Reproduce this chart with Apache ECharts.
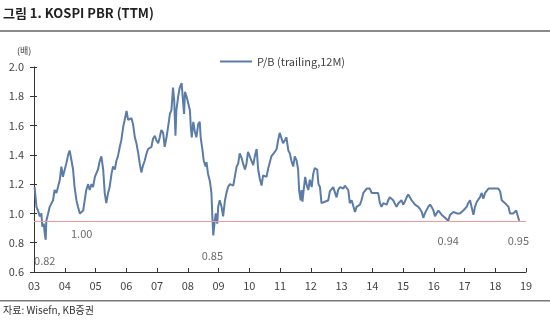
<!DOCTYPE html>
<html>
<head>
<meta charset="utf-8">
<script src="https://cdn.jsdelivr.net/npm/echarts@6/dist/echarts.min.js"></script>
<style>
html,body{margin:0;padding:0;background:#fff;}
#chart{width:550px;height:323px;}
</style>
</head>
<body>
<div id="chart"></div>
<script>
// ---- data (decimal year, P/B) ----
const dates = [
  2003.02,2003.08,2003.13,2003.19,2003.24,2003.27,2003.32,2003.35,2003.38,2003.40,2003.46,2003.51,2003.62,2003.67,2003.73,2003.78,2003.84,2003.89,2003.94,
  2004.00,2004.05,2004.11,2004.16,2004.22,2004.27,2004.32,2004.38,2004.43,2004.49,2004.54,2004.60,2004.65,2004.70,2004.76,2004.81,2004.87,2004.92,2004.98,
  2005.03,2005.08,2005.14,2005.19,2005.25,2005.30,2005.35,2005.41,2005.46,2005.52,2005.57,2005.63,2005.68,2005.73,2005.79,2005.84,2005.90,2005.95,
  2006.01,2006.06,2006.11,2006.17,2006.22,2006.28,2006.33,2006.39,2006.44,2006.49,2006.55,2006.60,2006.66,2006.71,2006.76,2006.82,2006.87,2006.93,2006.98,
  2007.04,2007.09,2007.14,2007.20,2007.25,2007.31,2007.36,2007.42,2007.47,2007.52,2007.56,2007.60,2007.63,2007.69,2007.74,2007.80,2007.85,2007.88,2007.91,2007.96,
  2008.01,2008.07,2008.10,2008.13,2008.18,2008.23,2008.28,2008.34,2008.39,2008.42,2008.48,2008.52,2008.58,2008.61,2008.66,2008.72,2008.77,2008.80,2008.83,2008.88,2008.91,2008.96,2008.99,
  2009.04,2009.10,2009.15,2009.21,2009.26,2009.31,2009.37,2009.42,2009.48,2009.53,2009.59,2009.64,2009.69,2009.75,2009.80,2009.86,2009.91,2009.96,
  2010.02,2010.07,2010.13,2010.18,2010.24,2010.29,2010.34,2010.40,2010.45,2010.51,2010.56,2010.62,2010.67,2010.72,2010.78,2010.83,2010.89,2010.94,2010.99,
  2011.05,2011.10,2011.16,2011.21,2011.27,2011.32,2011.37,2011.43,2011.48,2011.54,2011.59,2011.62,2011.67,2011.70,2011.73,2011.78,2011.82,2011.86,2011.92,2011.97,
  2012.03,2012.08,2012.13,2012.17,2012.21,2012.25,2012.30,2012.35,2012.41,2012.46,2012.51,2012.57,2012.62,2012.68,2012.73,2012.79,2012.84,2012.89,2012.95,
  2013.00,2013.06,2013.11,2013.16,2013.22,2013.27,2013.33,2013.38,2013.44,2013.49,2013.54,2013.60,2013.65,2013.71,2013.76,2013.82,2013.87,2013.92,2013.98,
  2014.03,2014.09,2014.14,2014.19,2014.25,2014.30,2014.36,2014.41,2014.47,2014.52,2014.57,2014.63,2014.68,2014.74,2014.79,2014.85,2014.90,2014.95,
  2015.01,2015.06,2015.12,2015.17,2015.22,2015.28,2015.33,2015.39,2015.44,2015.50,2015.55,2015.61,2015.66,2015.71,2015.77,2015.82,2015.88,2015.93,2015.99,
  2016.04,2016.09,2016.15,2016.20,2016.26,2016.31,2016.37,2016.42,2016.47,2016.53,2016.58,2016.64,2016.69,2016.75,2016.80,2016.85,2016.91,2016.96,
  2017.02,2017.07,2017.12,2017.18,2017.23,2017.29,2017.34,2017.40,2017.45,2017.50,2017.56,2017.61,2017.67,2017.72,2017.78,2017.83,2017.88,2017.94,2017.99,
  2018.05,2018.10,2018.16,2018.21,2018.26,2018.32,2018.37,2018.43,2018.48,2018.54,2018.59,2018.64,2018.68,2018.72,2018.75,2018.78
];
const pbr = [
  1.18,1.045,1.02,0.98,1.00,0.91,0.93,0.86,0.82,0.95,1.00,1.045,1.09,1.16,1.14,1.18,1.23,1.32,1.25,
  1.30,1.34,1.40,1.43,1.36,1.30,1.18,1.09,1.045,1.00,1.00,1.02,1.09,1.16,1.20,1.16,1.20,1.18,1.25,
  1.26,1.30,1.36,1.39,1.30,1.14,1.07,1.14,1.18,1.27,1.32,1.30,1.36,1.39,1.455,1.50,1.59,1.64,
  1.70,1.64,1.64,1.65,1.61,1.52,1.48,1.41,1.34,1.28,1.33,1.36,1.41,1.44,1.44,1.455,1.51,1.53,1.50,
  1.48,1.52,1.57,1.55,1.455,1.52,1.59,1.68,1.705,1.86,1.77,1.53,1.705,1.80,1.86,1.89,1.88,1.68,1.83,1.80,
  1.80,1.705,1.59,1.52,1.625,1.56,1.52,1.61,1.625,1.52,1.43,1.36,1.32,1.35,1.27,1.22,1.14,0.98,0.85,0.95,1.00,0.93,1.045,
  1.09,1.045,0.98,1.09,1.14,1.18,1.20,1.20,1.19,1.25,1.32,1.34,1.41,1.38,1.34,1.30,1.34,1.42,
  1.43,1.36,1.33,1.39,1.44,1.30,1.24,1.19,1.26,1.27,1.25,1.31,1.30,1.39,1.40,1.42,1.44,1.50,1.55,
  1.56,1.48,1.50,1.52,1.43,1.41,1.36,1.32,1.39,1.36,1.30,1.16,1.09,1.16,1.08,1.18,1.25,1.20,1.16,1.23,
  1.18,1.27,1.31,1.32,1.30,1.20,1.18,1.07,1.07,1.08,1.07,1.09,1.15,1.14,1.18,1.17,1.11,1.16,1.18,
  1.19,1.17,1.19,1.20,1.16,1.07,1.09,1.10,1.01,1.045,1.045,1.06,1.09,1.14,1.15,1.17,1.16,1.17,1.14,
  1.15,1.14,1.13,1.14,1.07,1.045,1.07,1.08,1.06,1.09,1.11,1.11,1.09,1.08,1.045,1.07,1.08,1.09,
  1.06,1.08,1.11,1.13,1.14,1.09,1.08,1.06,1.07,1.045,1.03,1.01,0.97,1.00,1.01,1.045,1.06,1.045,1.02,
  0.98,1.00,1.02,1.01,0.99,0.98,0.97,0.98,0.95,0.99,1.00,1.01,1.01,1.00,1.00,1.00,0.99,1.02,
  1.03,1.045,1.07,1.09,1.08,0.99,1.045,1.08,1.09,1.11,1.14,1.10,1.14,1.15,1.17,1.18,1.17,1.16,1.17,
  1.18,1.17,1.15,1.09,1.08,1.07,1.08,1.045,1.00,1.01,1.00,1.00,1.02,1.01,0.97,0.95
];
const refLevel = 0.95;
const xTickYears = [2003, 2019];
const yRange = [0.6, 2.0];
const annoDates = [2003.35, 2004.55, 2008.80, 2016.47, 2018.75];
const annoVals  = [0.82, 1.00, 0.85, 0.95, 0.95];
const annoText  = ['0.82', '1.00', '0.85', '0.94', '0.95'];
const seriesName = 'P/B (trailing,12M)';

const FONT = '"Noto Sans CJK KR","Noto Sans",sans-serif';
const lineData = dates.map((d, i) => [d, pbr[i]]);
const annoData = annoDates.map((d, i) => ({ value: [d, annoVals[i]], label: { formatter: annoText[i] } }));

const chart = echarts.init(document.getElementById('chart'), null, { renderer: 'canvas' });
chart.setOption({
  animation: false,
  backgroundColor: '#fff',
  textStyle: { fontFamily: FONT },
  grid: { left: 34, right: 24, top: 67, bottom: 51, containLabel: false },
  legend: {
    data: [{ name: seriesName, icon: 'rect' }],
    left: 215, top: 51,
    itemWidth: 32, itemHeight: 2,
    textStyle: { fontFamily: FONT, fontSize: 11, color: '#444' }
  },
  xAxis: {
    type: 'value', min: xTickYears[0], max: xTickYears[1], interval: 1,
    axisLine: { lineStyle: { color: '#333', width: 1 } },
    axisTick: { inside: true, length: 4, lineStyle: { color: '#333' } },
    axisLabel: { formatter: v => String(v).slice(2), fontSize: 11, color: '#444', margin: 8, fontFamily: FONT },
    splitLine: { show: false }
  },
  yAxis: [{
    type: 'value', min: yRange[0], max: yRange[1], interval: 0.2,
    axisLine: { show: true, lineStyle: { color: '#333', width: 1 } },
    axisTick: { show: true, length: 4, lineStyle: { color: '#333' } },
    axisLabel: { formatter: v => v.toFixed(1), fontSize: 11, color: '#444', margin: 10, fontFamily: FONT },
    splitLine: { show: false }
  }, {
    type: 'value', min: yRange[0], max: yRange[1], interval: 0.2, position: 'left',
    axisLine: { show: false },
    axisTick: { show: true, inside: true, length: 3, lineStyle: { color: '#333' } },
    axisLabel: { show: false },
    splitLine: { show: false }
  }],
  series: [{
    name: seriesName,
    type: 'line',
    data: lineData,
    symbol: 'none',
    lineStyle: { color: '#5b7ca8', width: 2 },
    itemStyle: { color: '#5b7ca8' },
    markLine: {
      silent: true, symbol: 'none',
      label: { show: false },
      lineStyle: { color: '#f29a9a', width: 1, type: 'solid' },
      data: [{ yAxis: refLevel }]
    }
  }, {
    name: 'anno',
    type: 'scatter',
    data: annoData,
    symbolSize: 0.1,
    silent: true,
    label: { show: true, position: 'bottom', distance: 15, fontSize: 11, color: '#444', fontFamily: FONT }
  }],
  graphic: [
    { type: 'text', left: 3, top: 7, style: { text: '그림 1. KOSPI PBR (TTM)', font: 'bold 13px ' + FONT, fill: '#222' } },
    { type: 'rect', shape: { x: 0, y: 30, width: 550, height: 2 }, style: { fill: '#8a8a8a' } },
    { type: 'text', left: 17, top: 46, style: { text: '(배)', font: '9px ' + FONT, fill: '#444' } },
    { type: 'rect', shape: { x: 0, y: 300, width: 550, height: 1.5 }, style: { fill: '#777' } },
    { type: 'text', left: 3, top: 305, style: { text: '자료: Wisefn, KB증권', font: '10px ' + FONT, fill: '#333' } }
  ]
});
</script>
</body>
</html>
